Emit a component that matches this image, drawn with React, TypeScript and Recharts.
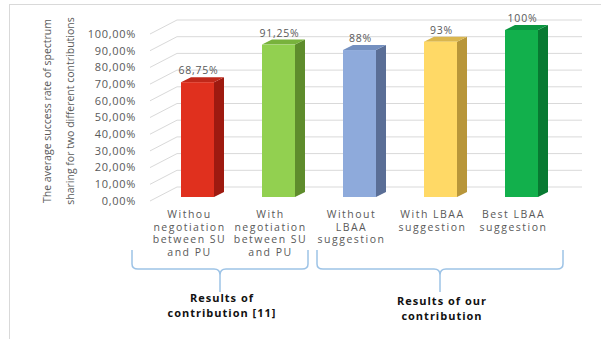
import React from "react";
import { BarChart, Bar, XAxis, YAxis, CartesianGrid, LabelList } from "recharts";

// categories (line breaks split the axis labels)
const categories = [
  "Withou\nnegotiation\nbetween SU\nand PU",
  "With\nnegotiation\nbetween SU\nand PU",
  "Without\nLBAA\nsuggestion",
  "With LBAA\nsuggestion",
  "Best LBAA\nsuggestion",
];
const successRates = [68.75, 91.25, 88, 93, 100];
const yTicks = [0, 10, 20, 30, 40, 50, 60, 70, 80, 90, 100];

// front / side / top face colours for each bar
const frontColors = ["#e0301e", "#92d050", "#8eaadb", "#ffd966", "#12b04c"];
const sideColors = ["#9e1a10", "#5e8c2c", "#5a6e96", "#b8963a", "#087a32"];
const topColors = ["#c0281a", "#78b23c", "#7490c0", "#dab64e", "#0a9640"];

const data = categories.map((name, i) => ({ name, value: successRates[i] }));

const W = 601;
const H = 339;
const PLOT_LEFT = 157;
const PLOT_RIGHT = 562;
const PLOT_TOP = 30;
const PLOT_BOTTOM = 197;
const Y_AXIS_W = 80;
const X_AXIS_H = 60;
const DEPTH_X = 10;
const DEPTH_Y = 5;
const FONT = "'Open Sans', sans-serif";
const GREY = "#595959";

const fmt = (v: number) =>
  Number.isInteger(v) ? `${v}%` : `${v.toFixed(2).replace(".", ",")}%`;

function Bar3D(props: any) {
  const { x, y, width, height, index } = props;
  if (height <= 0) return null;
  const dx = DEPTH_X;
  const dy = DEPTH_Y;
  return (
    <g>
      <polygon
        points={`${x + width},${y} ${x + width + dx},${y - dy} ${x + width + dx},${y + height - dy} ${x + width},${y + height}`}
        fill={sideColors[index]}
      />
      <polygon
        points={`${x},${y} ${x + dx},${y - dy} ${x + width + dx},${y - dy} ${x + width},${y}`}
        fill={topColors[index]}
      />
      <rect x={x} y={y} width={width} height={height} fill={frontColors[index]} />
    </g>
  );
}

// grid line runs along the floor diagonal, then across the back wall
function GridLine(props: any) {
  const { x1, y1 } = props;
  const backY = y1 - 10;
  return (
    <polyline
      key={`g-${y1}`}
      points={`${x1 - 7},${y1 + 4} ${x1 + 20},${backY} ${PLOT_RIGHT + 20},${backY}`}
      fill="none"
      stroke="#d9d9d9"
      strokeWidth={1}
    />
  );
}

function YTick(props: any) {
  const { y, payload } = props;
  return (
    <text
      x={PLOT_LEFT - 21}
      y={y + 4}
      dy="0.35em"
      textAnchor="end"
      fontFamily={FONT}
      fontSize={11}
      letterSpacing={0.7}
      fill={GREY}
    >
      {payload.value.toFixed(2).replace(".", ",")}%
    </text>
  );
}

function XTick(props: any) {
  const { x, payload } = props;
  const lines = String(payload.value).split("\n");
  return (
    <text
      x={x - 8}
      y={218}
      textAnchor="middle"
      fontFamily={FONT}
      fontSize={10.5}
      letterSpacing={1.5}
      fill={GREY}
    >
      {lines.map((l, i) => (
        <tspan key={i} x={x - 8} dy={i === 0 ? 0 : 12.5}>
          {l}
        </tspan>
      ))}
    </text>
  );
}

function ValueLabel(props: any) {
  const { x, y, width, value } = props;
  return (
    <text
      x={x + width / 2 + 1}
      y={y - 8}
      textAnchor="middle"
      fontFamily={FONT}
      fontSize={10.5}
      letterSpacing={0.8}
      fill={GREY}
    >
      {fmt(value)}
    </text>
  );
}

function YTitle() {
  return (
    <g fontFamily={FONT} fontSize={10.5} fill={GREY} textAnchor="middle">
      <text transform="translate(51,111) rotate(-90)">The average success rate of spectrum</text>
      <text transform="translate(74,111) rotate(-90)">sharing for two different contributions</text>
    </g>
  );
}

// curly brace opening downward, cusp at cx
function bracePath(x1: number, x2: number, cx: number) {
  const top = 250;
  const mid = 269;
  const tip = 292;
  return [
    `M ${x1} ${top}`,
    `L ${x1} ${mid - 5}`,
    `Q ${x1} ${mid} ${x1 + 6} ${mid}`,
    `L ${cx - 6} ${mid}`,
    `Q ${cx} ${mid} ${cx} ${mid + 6}`,
    `L ${cx} ${tip}`,
    `M ${cx} ${mid + 6}`,
    `Q ${cx} ${mid} ${cx + 6} ${mid}`,
    `L ${x2 - 6} ${mid}`,
    `Q ${x2} ${mid} ${x2} ${mid - 5}`,
    `L ${x2} ${top}`,
  ].join(" ");
}

function Groups() {
  return (
    <svg width={W} height={H} style={{ position: "absolute", left: 0, top: 0, pointerEvents: "none" }}>
      <path d={bracePath(132, 308, 220)} fill="none" stroke="#9dc3e6" strokeWidth={1.5} />
      <path d={bracePath(317, 563, 440)} fill="none" stroke="#9dc3e6" strokeWidth={1.5} />
      <g fontFamily={FONT} fontSize={11} fontWeight={700} letterSpacing={1} fill="#111" textAnchor="middle">
        <text x={222} y={302}>Results of</text>
        <text x={222} y={317}>contribution [11]</text>
        <text x={442} y={305}>Results of our</text>
        <text x={442} y={320}>contribution</text>
      </g>
    </svg>
  );
}

export default function App() {
  return (
    <div style={{ position: "absolute", left: 0, top: 0, width: W, height: H, background: "#fff", overflow: "hidden" }}>
      <div
        style={{
          position: "absolute",
          left: 9,
          top: 4,
          width: W,
          height: H,
          borderTop: "1px solid #d9d9d9",
          borderLeft: "1px solid #d9d9d9",
        }}
      />
      <div style={{ position: "absolute", left: 0, top: 0 }}>
        <BarChart
          width={W}
          height={H}
          data={data}
          margin={{
            top: PLOT_TOP,
            right: W - PLOT_RIGHT,
            bottom: H - PLOT_BOTTOM - X_AXIS_H,
            left: PLOT_LEFT - Y_AXIS_W,
          }}
          barSize={33}
        >
          <CartesianGrid vertical={false} horizontal={GridLine} />
          <XAxis dataKey="name" axisLine={false} tickLine={false} interval={0} tick={XTick} height={X_AXIS_H} />
          <YAxis
            width={Y_AXIS_W}
            domain={[0, 100]}
            ticks={yTicks}
            interval={0}
            axisLine={false}
            tickLine={false}
            tick={YTick}
          />
          <Bar dataKey="value" isAnimationActive={false} shape={Bar3D}>
            <LabelList dataKey="value" content={ValueLabel} />
          </Bar>
          <YTitle />
        </BarChart>
      </div>
      <Groups />
    </div>
  );
}
